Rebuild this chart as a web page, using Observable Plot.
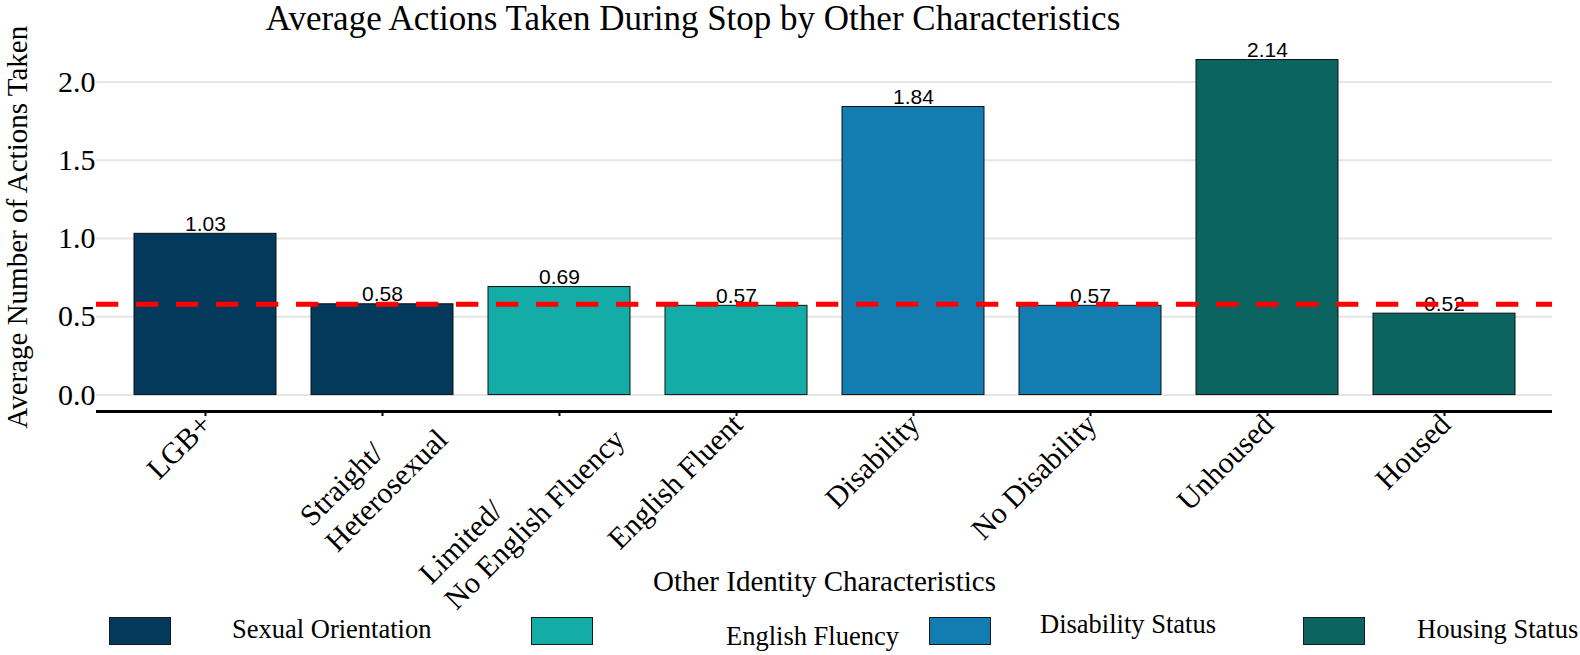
<!DOCTYPE html>
<html><head><meta charset="utf-8">
<script src="https://cdn.jsdelivr.net/npm/d3@7"></script>
<script src="https://cdn.jsdelivr.net/npm/@observablehq/plot@0.6"></script>
<style>
html,body{margin:0;padding:0;background:#fff;}
#wrap{position:relative;width:1580px;height:655px;overflow:hidden;font-family:"Liberation Serif","Times New Roman",serif;}
#wrap svg{position:absolute;left:0;top:0;}
.abs{position:absolute;white-space:nowrap;line-height:1;color:#000;}
.box{position:absolute;box-sizing:border-box;border:1px solid #1a1a1a;}
</style></head><body>
<div id="wrap"></div>
<script>
// ---- data ----
const categories = ["LGB+", "Straight/Heterosexual", "Limited/No English Fluency", "English Fluent", "Disability", "No Disability", "Unhoused", "Housed"];
const tickLabels = [["LGB+"], ["Straight/", "Heterosexual"], ["Limited/", "No English Fluency"], ["English Fluent"], ["Disability"], ["No Disability"], ["Unhoused"], ["Housed"]];
const groups = ["Sexual Orientation", "Sexual Orientation", "English Fluency", "English Fluency", "Disability Status", "Disability Status", "Housing Status", "Housing Status"];
const averageActions = [1.03, 0.58, 0.69, 0.57, 1.84, 0.57, 2.14, 0.52];
const legendGroups = ["Sexual Orientation", "English Fluency", "Disability Status", "Housing Status"];
const groupColors = ["#03395a", "#14aca7", "#137cb1", "#0c6461"];
const overallAverage = 0.58;
const yTicks = [0, 0.5, 1, 1.5, 2];
const titleText = "Average Actions Taken During Stop by Other Characteristics";
const xTitle = "Other Identity Characteristics";
const yTitle = "Average Number of Actions Taken";

// ---- layout ----
const W = 1580, H = 655, mL = 96, mR = 28, mT = 34.5, mB = 244;
const yDomain = [-0.105, 2.3];
const serif = '"Liberation Serif","Times New Roman",serif';
const sans = '"Liberation Sans",Arial,sans-serif';
const tickFS = 30;

const data = categories.map((c, i) => ({category: c, group: groups[i], value: averageActions[i]}));

const ctx = document.createElement("canvas").getContext("2d");
ctx.font = `${tickFS}px "Liberation Serif"`;
const c45 = Math.SQRT1_2;
const labelMarks = [];
tickLabels.forEach((lines, i) => {
  const cat = categories[i];
  const common = {x: d => d, frameAnchor: "bottom", rotate: -45, lineAnchor: "middle", fontSize: tickFS, fontFamily: serif, fill: "black"};
  if (lines.length === 1) {
    labelMarks.push(Plot.text([cat], {...common, text: () => lines[0], textAnchor: "end", dx: 1, dy: 8}));
  } else {
    const endX = 60, endY = 23, lineGap = 36;
    const w2 = ctx.measureText(lines[1]).width;
    const s2x = endX - w2 * c45, s2y = endY + w2 * c45;
    labelMarks.push(Plot.text([cat], {...common, text: () => lines[1], textAnchor: "start", dx: s2x, dy: s2y}));
    labelMarks.push(Plot.text([cat], {...common, text: () => lines[0], textAnchor: "start", dx: s2x - lineGap * c45, dy: s2y - lineGap * c45}));
  }
});

const chart = Plot.plot({
  width: W, height: H,
  marginLeft: mL, marginRight: mR, marginTop: mT, marginBottom: mB,
  style: {fontFamily: serif, fontSize: "30px", background: "white", color: "black", overflow: "visible"},
  x: {domain: categories, padding: 0.2},
  y: {domain: yDomain},
  color: {domain: legendGroups, range: groupColors},
  marks: [
    Plot.gridY(yTicks, {stroke: "#e5e5e5", strokeOpacity: 1, strokeWidth: 2}),
    Plot.axisY(yTicks, {tickFormat: d3.format(".1f"), tickSize: 0, tickPadding: 1, fontSize: 30, label: null}),
    Plot.barY(data, {x: "category", y: "value", fill: "group", stroke: "#111", strokeWidth: 1}),
    Plot.text(data, {x: "category", y: "value", text: d => d.value.toFixed(2), lineAnchor: "bottom", dy: -3, fontFamily: sans, fontSize: 21, fill: "black"}),
    Plot.ruleY([yDomain[0]], {stroke: "black", strokeWidth: 3}),
    Plot.axisX({tickSize: 5, strokeWidth: 2, tickFormat: () => "", label: null}),
    ...labelMarks,
    Plot.text([xTitle], {frameAnchor: "bottom", text: d => d, dy: 170, lineAnchor: "middle", textAnchor: "middle", fontSize: 29, fontFamily: serif, fill: "black"}),
    Plot.text([yTitle], {frameAnchor: "left", text: d => d, rotate: -90, dx: -79, dy: 4, lineAnchor: "middle", textAnchor: "middle", fontSize: 29, fontFamily: serif, fill: "black"}),
    Plot.ruleY([overallAverage], {stroke: "#ff0000", strokeWidth: 5, strokeDasharray: "22.3,17.7"})
  ]
});

const wrap = document.getElementById("wrap");
wrap.appendChild(chart);

// title
const t = document.createElement("div");
t.className = "abs";
t.textContent = titleText;
t.style.cssText = "font-size:35px;top:1px;left:693px;transform:translateX(-50%);";
wrap.appendChild(t);

// legend
const legendBoxLeft = [109, 531, 929, 1303];
const legendTextLeft = [232, 726, 1040, 1417];
const legendTextBaseline = [638, 645, 633, 638];
legendGroups.forEach((g, i) => {
  const b = document.createElement("div");
  b.className = "box";
  b.style.cssText = `left:${legendBoxLeft[i]}px;top:617px;width:62px;height:28px;background:${groupColors[i]};`;
  wrap.appendChild(b);
  const lt = document.createElement("div");
  lt.className = "abs";
  lt.textContent = g;
  lt.style.cssText = `font-size:26.5px;left:${legendTextLeft[i]}px;top:${legendTextBaseline[i] - 22.2}px;`;
  wrap.appendChild(lt);
});
</script>
</body></html>
